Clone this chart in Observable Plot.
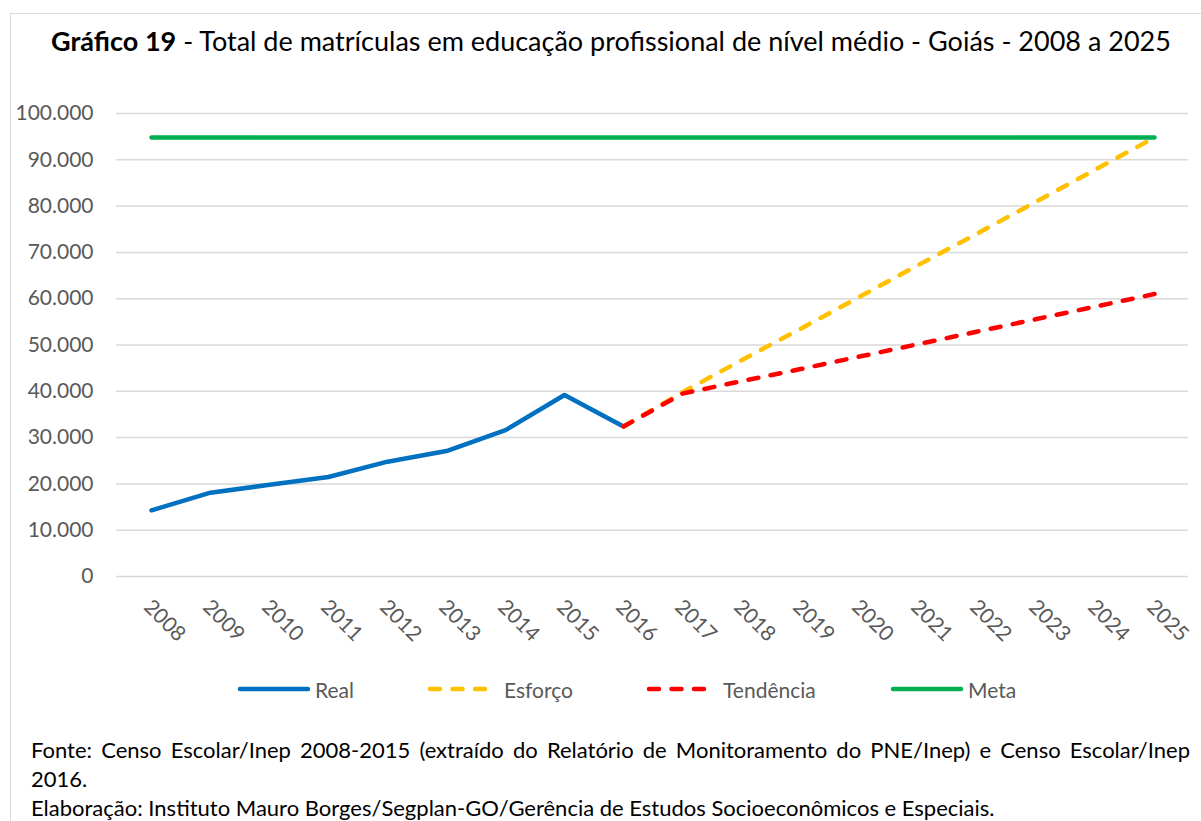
<!DOCTYPE html>
<html>
<head>
<meta charset="utf-8">
<script src="https://cdn.jsdelivr.net/npm/d3@7"></script>
<script src="https://cdn.jsdelivr.net/npm/@observablehq/plot@0.6"></script>
<style>
  html, body { margin: 0; padding: 0; background: #fff; }
  body { width: 1201px; height: 821px; position: relative; overflow: hidden; font-family: Lato, "Open Sans", sans-serif; }
  #frame { position: absolute; left: 10px; top: 13px; width: 1300px; height: 900px; border: 1.5px solid #d9d9d9; box-sizing: border-box; }
  #title { position: absolute; left: 0; top: 24px; width: 1222px; text-align: center; font-size: 27px; color: #000; white-space: nowrap; }
  #chart { position: absolute; left: 0; top: 0; }
  .leg { position: absolute; top: 677px; height: 24px; display: flex; align-items: center; font-size: 21px; color: #595959; }
  .leg svg { margin-right: 4px; }
  #footer { position: absolute; left: 31px; top: 735px; width: 1159px; font-size: 22px; color: #000; line-height: 29px; }
  .just { text-align: justify; text-align-last: justify; white-space: nowrap; }
</style>
</head>
<body>
<div id="frame"></div>
<div id="title"><b>Gráfico 19</b> - Total de matrículas em educação profissional de nível médio - Goiás - 2008 a 2025</div>
<div id="chart"></div>
<div id="legend"></div>
<div id="footer">
  <div class="just">Fonte: Censo Escolar/Inep 2008-2015 (extraído do Relatório de Monitoramento do PNE/Inep) e Censo Escolar/Inep</div>
  <div>2016.</div>
  <div>Elaboração: Instituto Mauro Borges/Segplan-GO/Gerência de Estudos Socioeconômicos e Especiais.</div>
</div>
<script>
// ---- data ----
const years = ["2008","2009","2010","2011","2012","2013","2014","2015","2016","2017","2018","2019","2020","2021","2022","2023","2024","2025"];
const realYears = ["2008","2009","2010","2011","2012","2013","2014","2015","2016"];
const realValues = [14300, 18100, 19800, 21500, 24800, 27100, 31600, 39200, 32400];
const projYears = ["2016","2017","2018","2019","2020","2021","2022","2023","2024","2025"];
const esforcoValues = [32400, 39800, 46700, 53500, 60400, 67300, 74100, 81000, 87900, 94800];
const tendenciaValues = [32400, 39500, 42200, 44800, 47500, 50200, 52900, 55600, 58300, 61000];
const metaValues = [94800, 94800, 94800, 94800, 94800, 94800, 94800, 94800, 94800, 94800, 94800, 94800, 94800, 94800, 94800, 94800, 94800, 94800];
const yTicks = [0, 10000, 20000, 30000, 40000, 50000, 60000, 70000, 80000, 90000, 100000];
const seriesNames = ["Real", "Esforço", "Tendência", "Meta"];
const seriesColors = ["#0070C0", "#FFC000", "#FF0000", "#00B050"];

const real = realYears.map((y, i) => ({year: y, value: realValues[i]}));
const esforco = projYears.map((y, i) => ({year: y, value: esforcoValues[i]}));
const tendencia = projYears.map((y, i) => ({year: y, value: tendenciaValues[i]}));
const meta = years.map((y, i) => ({year: y, value: metaValues[i]}));

const ptBR = d3.formatLocale({decimal: ",", thousands: ".", grouping: [3], currency: ["R$", ""]});
const fmt = ptBR.format(",d");

const dash = "10,12.5";
const common = {x: "year", y: "value", strokeWidth: 4.5, strokeLinecap: "round", strokeLinejoin: "round"};

const chart = Plot.plot({
  width: 1201,
  height: 666,
  marginTop: 113,
  marginBottom: 90,
  marginLeft: 116,
  marginRight: 13,
  style: {fontFamily: "Lato, 'Open Sans', sans-serif", fontSize: "21px", color: "#595959", background: "transparent", overflow: "visible"},
  x: {type: "point", domain: years, padding: 0.5},
  y: {domain: [0, 100000]},
  marks: [
    Plot.gridY(yTicks, {stroke: "#d9d9d9", strokeOpacity: 1, strokeWidth: 1.5}),
    Plot.axisY(yTicks, {tickSize: 0, tickPadding: 23, tickFormat: fmt, fontSize: 21, label: null}),
    Plot.axisX({tickRotate: 45, tickSize: 0, tickPadding: 27, dx: -4, fontSize: 21, label: null}),
    Plot.line(real, {...common, stroke: seriesColors[0]}),
    Plot.line(esforco, {...common, stroke: seriesColors[1], strokeDasharray: dash}),
    Plot.line(tendencia, {...common, stroke: seriesColors[2], strokeDasharray: dash}),
    Plot.line(meta, {...common, stroke: seriesColors[3]})
  ]
});
document.getElementById("chart").appendChild(chart);

// ---- legend ----
const legendLeft = [237, 427, 646, 890];
const legendDashed = [false, true, true, false];
const legend = document.getElementById("legend");
seriesNames.forEach((name, i) => {
  const item = document.createElement("div");
  item.className = "leg";
  item.style.left = legendLeft[i] + "px";
  const w = legendDashed[i] ? 66 : 74;
  item.innerHTML = `<svg width="${w}" height="10"><line x1="3" y1="5" x2="${w - 3}" y2="5" stroke="${seriesColors[i]}" stroke-width="4.5" stroke-linecap="round" ${legendDashed[i] ? 'stroke-dasharray="10,12.5"' : ''}/></svg><span>${name}</span>`;
  if (legendDashed[i]) item.querySelector("svg").style.marginRight = "11px";
  legend.appendChild(item);
});
</script>
</body>
</html>
